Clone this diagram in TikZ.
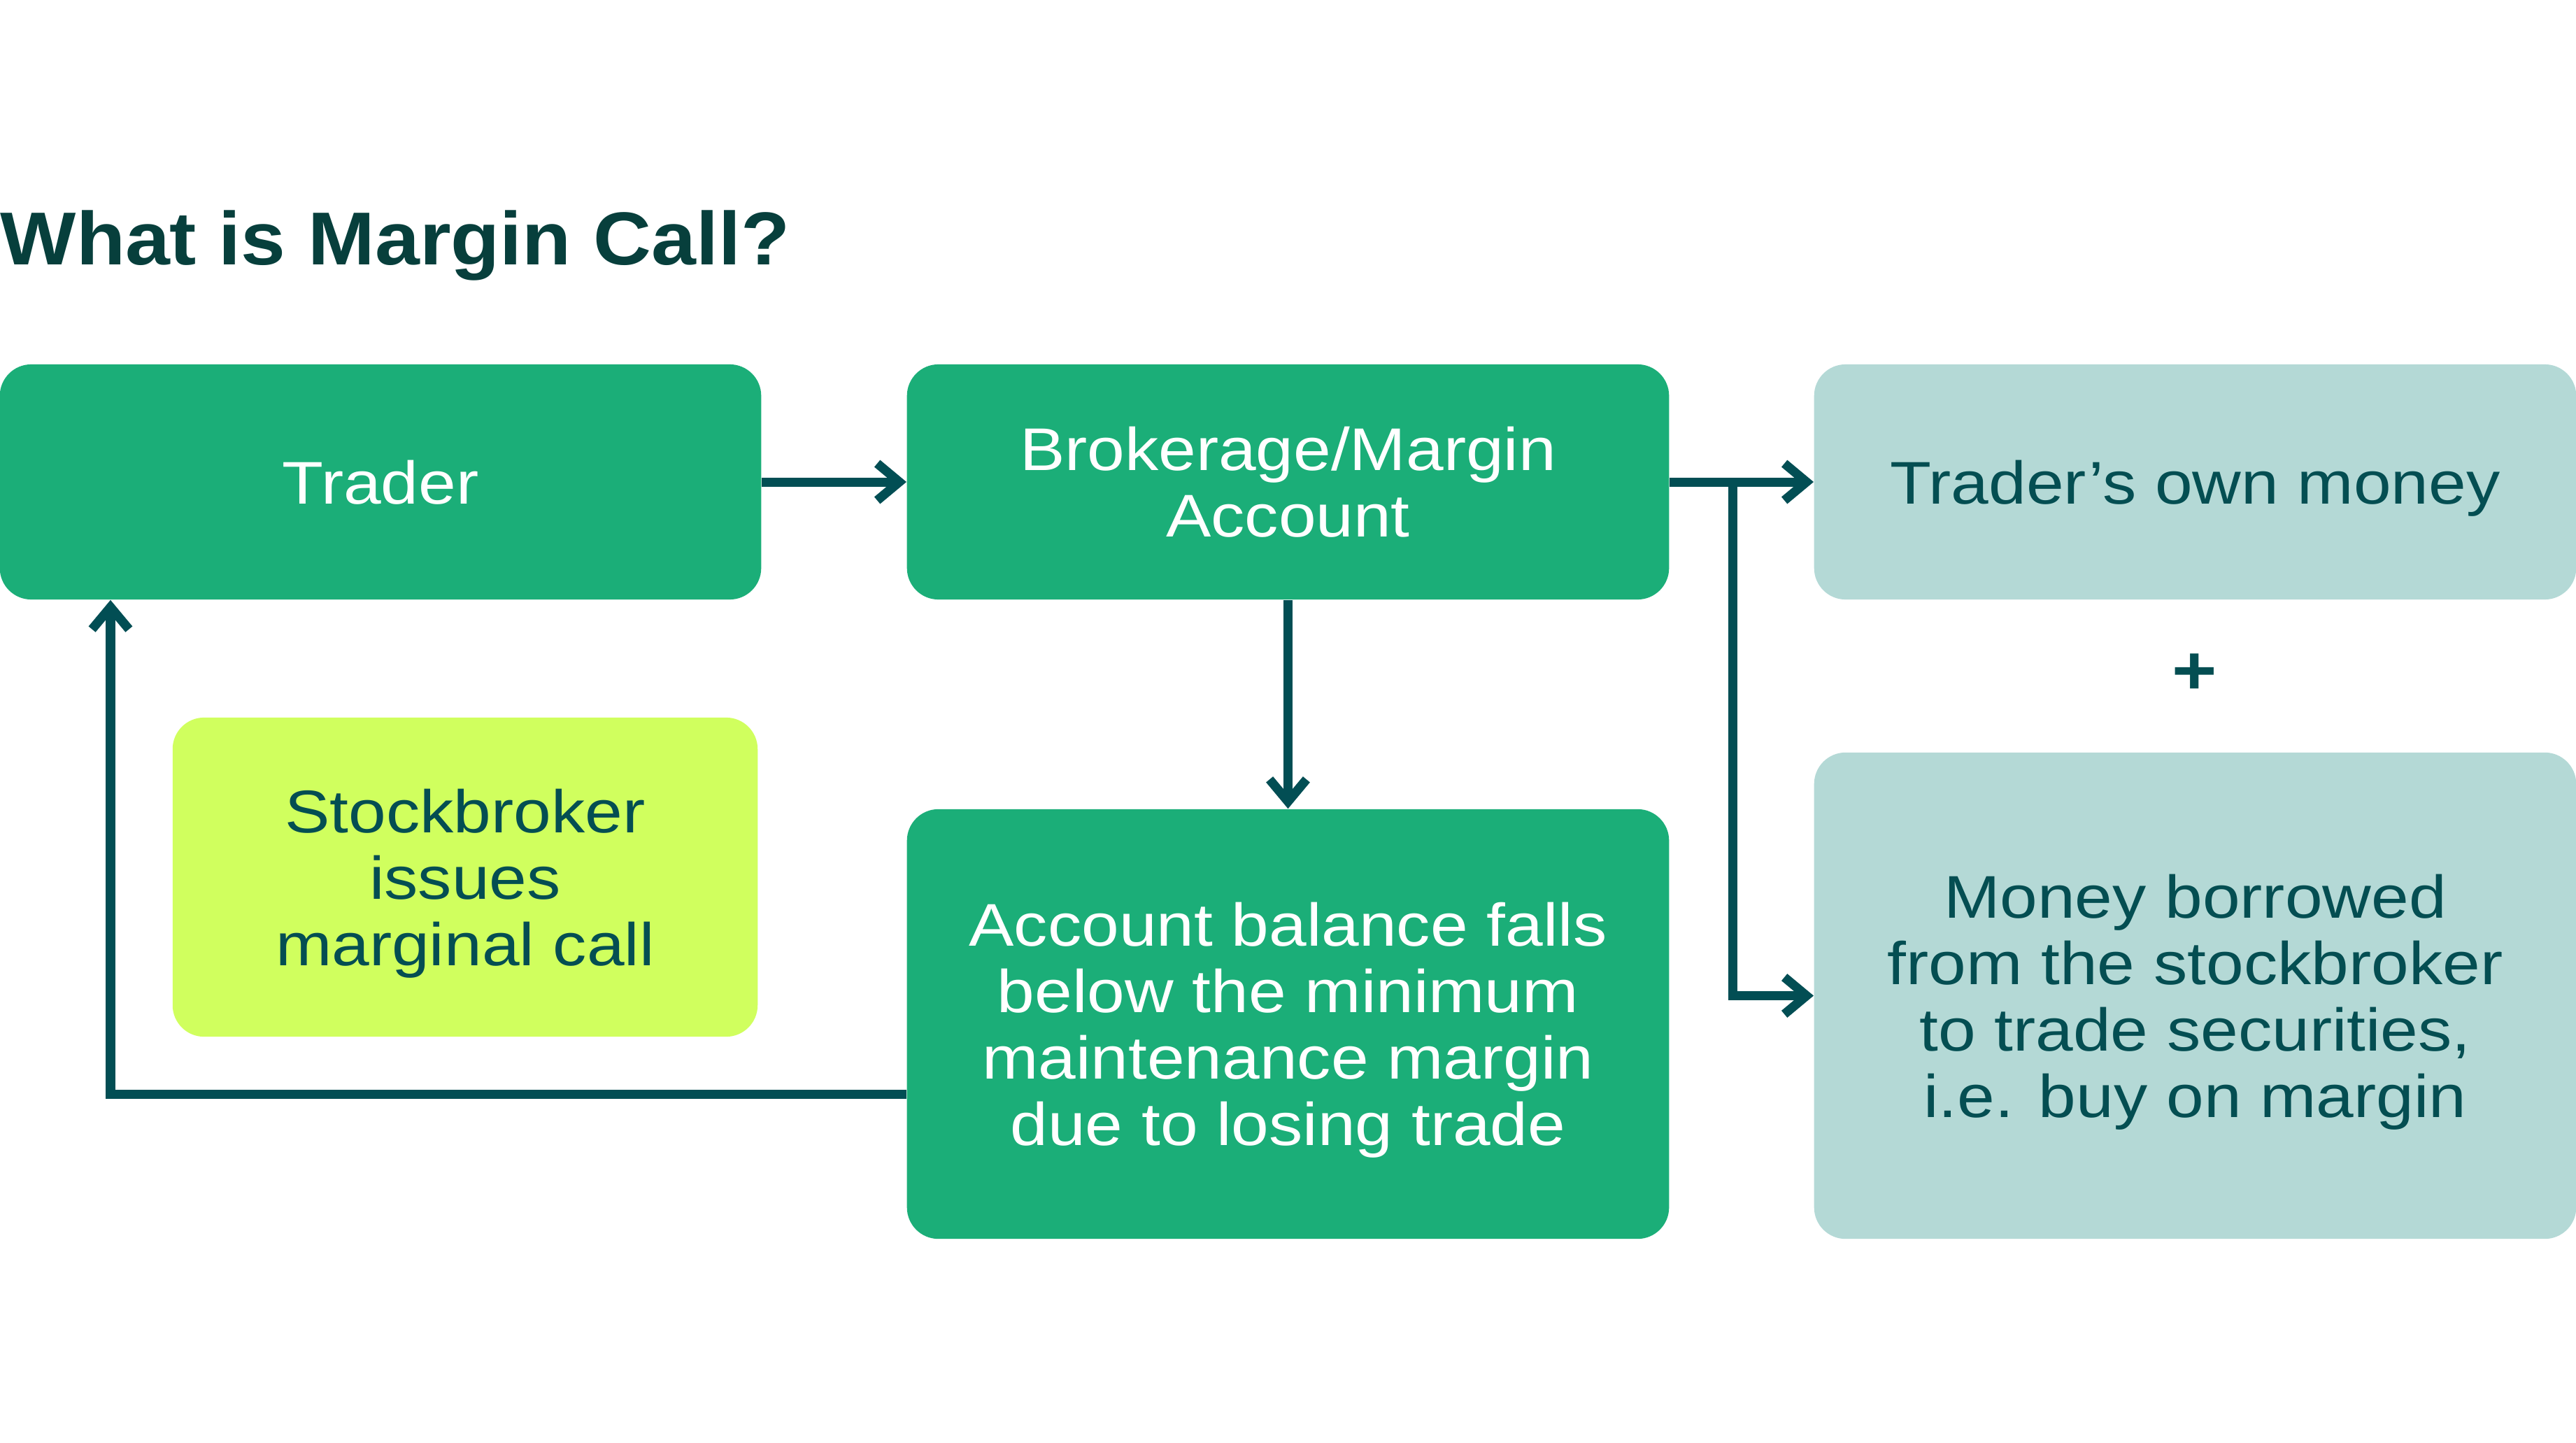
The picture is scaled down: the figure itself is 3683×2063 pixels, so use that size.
\documentclass[tikz,border=0pt]{standalone}
\usepackage{fontspec}
\setmainfont{Liberation Sans}[FakeStretch=1.12]
\newfontfamily\titlefont{Liberation Sans}[FakeStretch=1.07]
\usetikzlibrary{arrows.meta}
\definecolor{boxgreen}{RGB}{27,174,120}
\definecolor{boxteal}{RGB}{180,217,214}
\definecolor{boxlime}{RGB}{208,255,94}
\definecolor{linecol}{RGB}{2,78,84}
\definecolor{titlecol}{RGB}{7,63,60}
\definecolor{darktext}{RGB}{4,78,82}
\tikzset{
  card/.style={rectangle, rounded corners=0.45cm, inner sep=0pt, align=center,
    font=\fontsize{24.5}{27}\selectfont, text depth=-6pt},
  greencard/.style={card, fill=boxgreen, text=white},
  tealcard/.style={card, fill=boxteal, text=darktext},
  limecard/.style={card, fill=boxlime, text=darktext},
  flow/.style={draw=linecol, line width=3.7pt, line join=miter,
    -{Straight Barb[length=9pt,width=15pt]}}
}
\begin{document}
\begin{tikzpicture}[x=0.01cm,y=-0.01cm]
\useasboundingbox (0,0) rectangle (3683,2063);
\node[anchor=base west, inner sep=0pt, text=titlecol,
  font=\titlefont\fontsize{30.5}{34}\selectfont\bfseries] (title) at (0,378) {What is Margin Call?};
\node[greencard, minimum width=10.88cm, minimum height=3.36cm] (trader) at (544,689) {Trader};
\node[greencard, minimum width=10.89cm, minimum height=3.36cm] (broker) at (1841.5,689) {Brokerage/Margin\\Account};
\node[tealcard, minimum width=10.89cm, minimum height=3.36cm] (own) at (3138.5,689) {Trader’s own money};
\node[greencard, minimum width=10.89cm, minimum height=6.14cm] (balance) at (1841.5,1464) {Account balance falls\\below the minimum\\maintenance margin\\due to losing trade};
\node[tealcard, minimum width=10.89cm, minimum height=6.95cm] (borrowed) at (3138.5,1423.5) {Money borrowed\\from the stockbroker\\to trade securities,\\i.e. buy on margin};
\node[limecard, minimum width=8.36cm, minimum height=4.56cm] (stock) at (665,1254) {Stockbroker\\issues\\marginal call};
\node[text=darktext, font=\fontsize{28}{30}\selectfont\bfseries, inner sep=0pt] (plus) at (3138,964) {+};
\coordinate (branch) at (2477,689);
\coordinate (corner) at (158,1564);
\draw[flow] (trader.east) -- (broker.west);
\draw[flow] (broker.east) -- (own.west);
\draw[flow] (branch) |- (borrowed.west);
\draw[flow] (broker.south) -- (balance.north);
\draw[flow] (balance.west |- corner) -- (corner) -- (corner |- trader.south);
\end{tikzpicture}
\end{document}
